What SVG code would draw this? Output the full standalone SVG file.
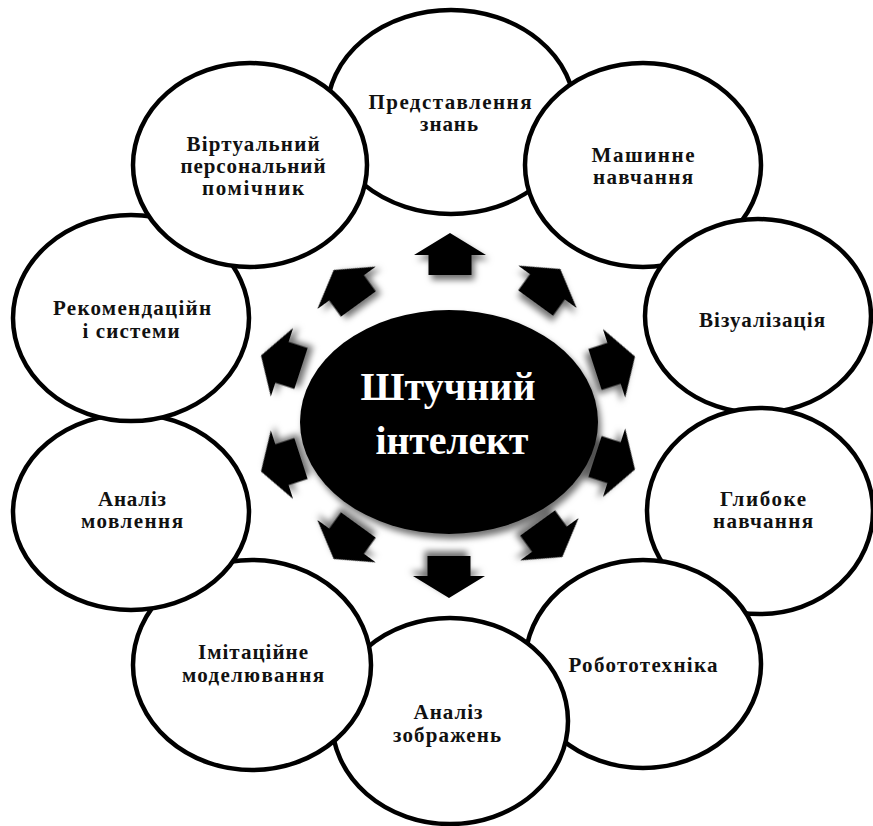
<svg xmlns="http://www.w3.org/2000/svg" width="873" height="826" viewBox="0 0 873 826">
<style>
.n{fill:#fff;stroke:#000;stroke-width:4.5}
.t{font-family:"Liberation Serif","Times New Roman",serif;font-weight:bold;font-size:21px;fill:#111;text-anchor:middle}
.c{font-family:"Liberation Serif","Times New Roman",serif;font-weight:bold;font-size:40px;fill:#fff;text-anchor:middle}
.a{fill:#000;filter:url(#sh)}
</style>
<defs>
<filter id="sh" x="-50%" y="-50%" width="200%" height="200%">
<feDropShadow dx="3" dy="5" stdDeviation="3" flood-color="#000" flood-opacity="0.55"/>
</filter>
<path id="arr" d="M0,-21 L36,1 L21.5,1 L21.5,21 L-21.5,21 L-21.5,1 L-36,1 Z"/>
</defs>
<rect width="873" height="826" fill="#fff"/>
<g id="n1"><ellipse class="n" cx="451" cy="112" rx="124" ry="102"/>
<text class="t" x="450" y="109" textLength="163" lengthAdjust="spacing">Представлення</text>
<text class="t" x="449" y="131" textLength="58" lengthAdjust="spacing">знань</text></g>
<g id="n2"><ellipse class="n" cx="643" cy="165" rx="118" ry="102"/>
<text class="t" x="643" y="162" textLength="103" lengthAdjust="spacing">Машинне</text>
<text class="t" x="643" y="184" textLength="100" lengthAdjust="spacing">навчання</text></g>
<g id="n3"><ellipse class="n" cx="758" cy="316" rx="113" ry="97"/>
<text class="t" x="762" y="327" textLength="126" lengthAdjust="spacing">Візуалізація</text></g>
<g id="n4"><ellipse class="n" cx="760" cy="511" rx="113" ry="103"/>
<text class="t" x="763" y="506" textLength="86" lengthAdjust="spacing">Глибоке</text>
<text class="t" x="763" y="528" textLength="100" lengthAdjust="spacing">навчання</text></g>
<g id="n5"><ellipse class="n" cx="643" cy="664" rx="118" ry="104"/>
<text class="t" x="643" y="672" textLength="149" lengthAdjust="spacing">Робототехніка</text></g>
<g id="n6"><ellipse class="n" cx="450" cy="721" rx="118" ry="103"/>
<text class="t" x="448" y="719" textLength="69" lengthAdjust="spacing">Аналіз</text>
<text class="t" x="447" y="742" textLength="108" lengthAdjust="spacing">зображень</text></g>
<g id="n7"><ellipse class="n" cx="252" cy="665" rx="119" ry="105"/>
<text class="t" x="253" y="659" textLength="110" lengthAdjust="spacing">Імітаційне</text>
<text class="t" x="253" y="682" textLength="142" lengthAdjust="spacing">моделювання</text></g>
<g id="n8"><ellipse class="n" cx="131" cy="512" rx="118" ry="98"/>
<text class="t" x="132" y="506" textLength="68" lengthAdjust="spacing">Аналіз</text>
<text class="t" x="132" y="528" textLength="102" lengthAdjust="spacing">мовлення</text></g>
<g id="n9"><ellipse class="n" cx="131" cy="318" rx="118" ry="103"/>
<text class="t" x="132" y="315" textLength="158" lengthAdjust="spacing">Рекомендаційн</text>
<text class="t" x="131" y="338" textLength="97" lengthAdjust="spacing">і системи</text></g>
<g id="n10"><ellipse class="n" cx="250" cy="165" rx="117" ry="102"/>
<text class="t" x="253" y="151" textLength="133" lengthAdjust="spacing">Віртуальний</text>
<text class="t" x="253" y="173" textLength="145" lengthAdjust="spacing">персональний</text>
<text class="t" x="253" y="195" textLength="102" lengthAdjust="spacing">помічник</text></g>
<g id="connectors">
<use class="a" href="#arr" transform="translate(450,254)"/>
<use class="a" href="#arr" transform="translate(548,286) rotate(36)"/>
<use class="a" href="#arr" transform="translate(615,363) rotate(72)"/>
<use class="a" href="#arr" transform="translate(615,463) rotate(108)"/>
<use class="a" href="#arr" transform="translate(550,540) rotate(144)"/>
<use class="a" href="#arr" transform="translate(449,577) rotate(180)"/>
<use class="a" href="#arr" transform="translate(346,542) rotate(216)"/>
<use class="a" href="#arr" transform="translate(281,465) rotate(252)"/>
<use class="a" href="#arr" transform="translate(281,362) rotate(288)"/>
<use class="a" href="#arr" transform="translate(346,287) rotate(324)"/>
</g>
<g id="center"><ellipse cx="449" cy="422" rx="149" ry="112" fill="#000" filter="url(#sh)"/>
<text class="c" x="448" y="400" textLength="175" lengthAdjust="spacing">Штучний</text>
<text class="c" x="452" y="454" textLength="153" lengthAdjust="spacing">інтелект</text></g>
</svg>
